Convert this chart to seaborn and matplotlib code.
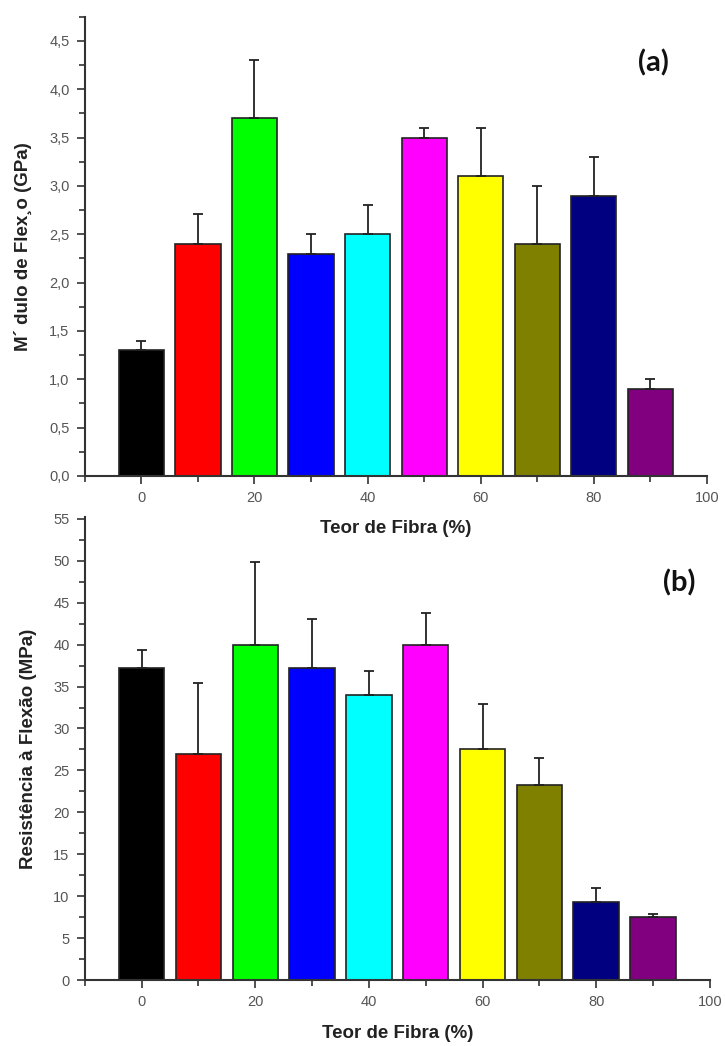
import numpy as np
import pandas as pd
import seaborn as sns
import matplotlib.pyplot as plt
from matplotlib.ticker import MultipleLocator, FuncFormatter

# fibre content (%) and bar colours
teor = [0, 10, 20, 30, 40, 50, 60, 70, 80, 90]
cores = ['#000000', '#FF0000', '#00FF00', '#0000FF', '#00FFFF',
         '#FF00FF', '#FFFF00', '#808000', '#000080', '#800080']

# (a) flexural modulus, GPa
modulo = [1.3, 2.4, 3.7, 2.3, 2.5, 3.5, 3.1, 2.4, 2.9, 0.9]
modulo_err = [0.1, 0.31, 0.6, 0.2, 0.3, 0.1, 0.5, 0.6, 0.4, 0.1]

# (b) flexural strength, MPa
resist = [37.2, 27.0, 40.0, 37.2, 34.0, 40.0, 27.5, 23.3, 9.3, 7.5]
resist_err = [2.1, 8.4, 9.8, 5.8, 2.8, 3.8, 5.4, 3.2, 1.7, 0.4]

sns.set_style('ticks')
plt.rcParams['font.family'] = ['Liberation Sans', 'DejaVu Sans']


def draw_panel(ax, vals, errs, ylim, major, minor, fmt, ylabel, tag, tagpos):
    df = pd.DataFrame({'teor': teor, 'val': vals})
    sns.barplot(data=df, x='teor', y='val', hue='teor', palette=cores,
                native_scale=True, width=0.8, legend=False, saturation=1,
                edgecolor='#222222', linewidth=1.2, ax=ax)
    ax.errorbar(teor, vals, yerr=[np.zeros(len(errs)), errs], fmt='none',
                ecolor='#222222', elinewidth=1.3, capsize=3.5, capthick=1.3)
    ax.set_xlim(-10, 100)
    ax.set_ylim(*ylim)
    ax.xaxis.set_major_locator(MultipleLocator(20))
    ax.xaxis.set_minor_locator(MultipleLocator(10))
    ax.yaxis.set_major_locator(MultipleLocator(major))
    ax.yaxis.set_minor_locator(MultipleLocator(minor))
    ax.yaxis.set_major_formatter(FuncFormatter(fmt))
    ax.tick_params(which='major', length=6, width=1.2, color='#333333',
                   labelsize=10.5, labelcolor='#555555', pad=5)
    ax.tick_params(which='minor', length=4, width=1.2, color='#333333')
    sns.despine(ax=ax)
    for s in ['left', 'bottom']:
        ax.spines[s].set_linewidth(1.5)
        ax.spines[s].set_color('#333333')
    ax.set_xlabel('Teor de Fibra (%)', fontsize=13.5, fontweight='bold',
                  color='#222222', labelpad=11)
    ax.set_ylabel(ylabel, fontsize=13.5, fontweight='bold', color='#222222',
                  labelpad=12)
    ax.set_facecolor('none')
    ax.text(tagpos[0], tagpos[1], tag, transform=ax.transAxes, ha='center',
            va='center', fontsize=21, fontweight='bold', family='Lato',
            color='#111111')


fig = plt.figure(figsize=(7.25, 10.46), dpi=100)
ax1 = fig.add_axes([0.117, 0.545, 0.858, 0.439])
ax2 = fig.add_axes([0.117, 0.063, 0.862, 0.443])

draw_panel(ax1, modulo, modulo_err, (0, 4.75), 0.5, 0.25,
           lambda v, p: f'{v:.1f}'.replace('.', ','),
           'M´ dulo de Flex¸o (GPa)', '(a)', (0.914, 0.9))
draw_panel(ax2, resist, resist_err, (0, 55.25), 5, 2.5,
           lambda v, p: f'{v:.0f}',
           'Resistência à Flexão (MPa)', '(b)', (0.951, 0.858))

fig.savefig('out.png', dpi=100)
